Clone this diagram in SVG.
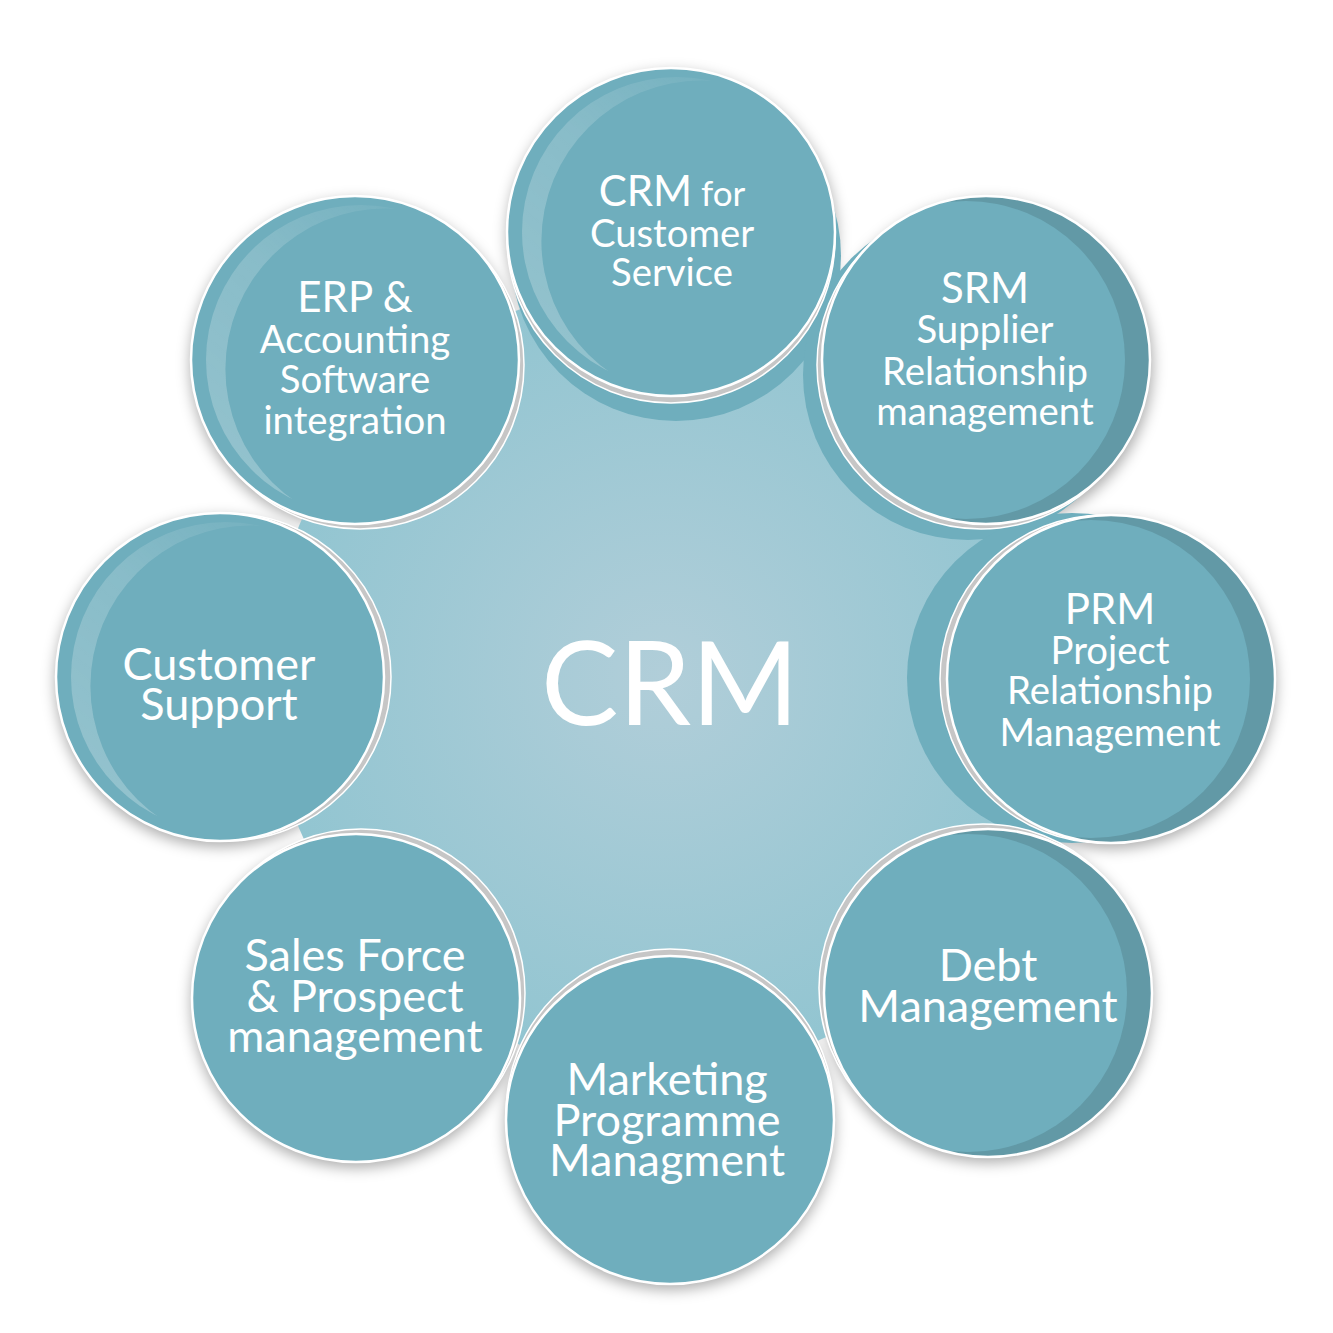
<svg xmlns="http://www.w3.org/2000/svg" width="1333" height="1333" viewBox="0 0 1333 1333">
<defs>
<style>
.lbl{font-family:Lato,"Liberation Sans",sans-serif;fill:#ffffff;text-anchor:middle}
.t{font-size:42px}
.b{font-size:38.3px}
.l{font-size:45px}
.face{fill:#6FAEBD}
.edge{fill:none;stroke:#ffffff;stroke-width:2.5}
.rim{fill:#c6c6c6;stroke:#ffffff;stroke-width:1.5}
.back{fill:#6FAEBD}
</style>
<radialGradient id="hub" cx="664" cy="677" r="395" gradientUnits="userSpaceOnUse">
<stop offset="0" stop-color="#b1ced9"/>
<stop offset="1" stop-color="#92c5d1"/>
</radialGradient>
<linearGradient id="hl" x1="0" y1="1" x2="0.8" y2="0">
<stop offset="0" stop-color="#ffffff" stop-opacity="0.28"/>
<stop offset="0.6" stop-color="#ffffff" stop-opacity="0.18"/>
<stop offset="1" stop-color="#ffffff" stop-opacity="0"/>
</linearGradient>
<clipPath id="disc"><circle cx="0" cy="0" r="164"/></clipPath>
<mask id="band" maskUnits="userSpaceOnUse" x="-200" y="-200" width="400" height="400">
<circle cx="6" cy="0" r="155" fill="#fff"/>
<circle cx="31" cy="9" r="160.6" fill="#000"/>
</mask>
<filter id="blur" x="-30%" y="-30%" width="160%" height="160%"><feGaussianBlur stdDeviation="7"/></filter>
</defs>
<rect width="1333" height="1333" fill="#ffffff"/>
<g id="shadows" filter="url(#blur)" fill="#000" fill-opacity="0.32">
<circle cx="672" cy="237" r="165"/>
<circle cx="988" cy="365" r="165"/>
<circle cx="1111" cy="684" r="165"/>
<circle cx="988" cy="998" r="165"/>
<circle cx="670" cy="1125" r="165"/>
<circle cx="356" cy="1003" r="165"/>
<circle cx="220" cy="682" r="165"/>
<circle cx="355" cy="365" r="165"/>
</g>
<g id="hub-area">
<circle cx="664" cy="677" r="395" fill="url(#hub)"/>
<circle class="back" cx="676" cy="256" r="165"/>
<circle class="back" cx="968" cy="375" r="165"/>
<circle class="back" cx="1072" cy="678" r="165"/>
<text class="lbl" x="670" y="725" font-size="116px">CRM</text>
</g>
<g id="connectors"></g>
<g id="node-crm-service" transform="translate(671,232)">
<circle class="rim" cx="0" cy="7" r="164"/>
<circle class="face" r="164"/>
<circle r="164" fill="url(#hl)" mask="url(#band)"/>
<circle class="edge" r="164"/>
<text class="lbl b"><tspan x="1" y="-26"><tspan class="t">CRM</tspan><tspan font-size="35px"> for</tspan></tspan><tspan x="1" y="15">Customer</tspan><tspan x="1" y="54">Service</tspan></text>
</g>
<g id="node-srm" transform="translate(986,360)">
<circle class="rim" cx="-5" cy="5" r="164"/>
<circle r="164" fill="#6299a6"/>
<circle class="face" cx="-20" cy="0" r="159" clip-path="url(#disc)"/>
<circle class="edge" r="164"/>
<text class="lbl b"><tspan class="t" x="-1" y="-57">SRM</tspan><tspan x="-1" y="-17">Supplier</tspan><tspan x="-1" y="25">Relationship</tspan><tspan x="-1" y="65">management</tspan></text>
</g>
<g id="node-prm" transform="translate(1111,679)">
<circle class="rim" cx="-7" cy="0" r="164"/>
<circle r="164" fill="#6299a6"/>
<circle class="face" cx="-20" cy="0" r="159" clip-path="url(#disc)"/>
<circle class="edge" r="164"/>
<text class="lbl b"><tspan class="t" x="-1" y="-55">PRM</tspan><tspan x="-1" y="-15">Project</tspan><tspan x="-1" y="25">Relationship</tspan><tspan x="-1" y="67">Management</tspan></text>
</g>
<g id="node-debt" transform="translate(988,993)">
<circle class="rim" cx="-5" cy="-5" r="164"/>
<circle r="164" fill="#6299a6"/>
<circle class="face" cx="-20" cy="0" r="159" clip-path="url(#disc)"/>
<circle class="edge" r="164"/>
<text class="lbl l"><tspan x="0" y="-12">Debt</tspan><tspan x="0" y="29">Management</tspan></text>
</g>
<g id="node-marketing" transform="translate(670,1120)">
<circle class="rim" cx="0" cy="-7" r="164"/>
<circle class="face" r="164"/>
<circle class="edge" r="164"/>
<text class="lbl l"><tspan x="-3" y="-25">Marketing</tspan><tspan x="-3" y="16">Programme</tspan><tspan x="-3" y="56">Managment</tspan></text>
</g>
<g id="node-sales" transform="translate(356,998)">
<circle class="rim" cx="5" cy="-5" r="164"/>
<circle class="face" r="164"/>
<circle class="edge" r="164"/>
<text class="lbl l"><tspan x="-1" y="-27">Sales Force</tspan><tspan x="-1" y="14">&amp; Prospect</tspan><tspan x="-1" y="54">management</tspan></text>
</g>
<g id="node-support" transform="translate(220,677)">
<circle class="rim" cx="7" cy="0" r="164"/>
<circle class="face" r="164"/>
<circle r="164" fill="url(#hl)" mask="url(#band)"/>
<circle class="edge" r="164"/>
<text class="lbl l"><tspan x="-1" y="3">Customer</tspan><tspan x="-1" y="43">Support</tspan></text>
</g>
<g id="node-erp" transform="translate(355,360)">
<circle class="rim" cx="5" cy="5" r="164"/>
<circle class="face" r="164"/>
<circle r="164" fill="url(#hl)" mask="url(#band)"/>
<circle class="edge" r="164"/>
<text class="lbl b"><tspan class="t" x="0" y="-48">ERP &amp;</tspan><tspan x="0" y="-7">Accounting</tspan><tspan x="0" y="33">Software</tspan><tspan x="0" y="74">integration</tspan></text>
</g>
</svg>
